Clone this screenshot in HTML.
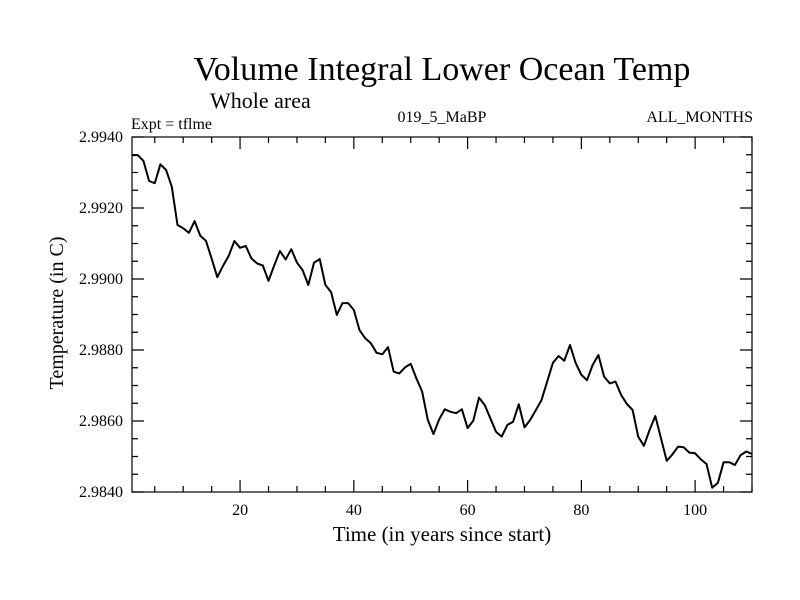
<!DOCTYPE html>
<html><head><meta charset="utf-8"><style>
body{margin:0;background:#fff}
svg{display:block;font-family:"Liberation Serif",serif}
</style></head><body>
<svg id="c" width="800" height="600" xmlns="http://www.w3.org/2000/svg">
<text x="442" y="80" font-size="34" text-anchor="middle">Volume Integral Lower Ocean Temp</text>
<text x="210" y="108" font-size="22">Whole area</text>
<text x="131" y="129" font-size="16">Expt = tflme</text>
<text x="442" y="122" font-size="16" text-anchor="middle">019_5_MaBP</text>
<text x="753" y="122" font-size="16" text-anchor="end">ALL_MONTHS</text>
<text x="442" y="541" font-size="21" text-anchor="middle">Time (in years since start)</text>
<text transform="translate(63,313) rotate(-90)" font-size="20" text-anchor="middle">Temperature (in C)</text>
<g id="axes"></g>
<rect x="132" y="137" width="620" height="355" fill="none" stroke="#000" stroke-width="1.2"/>
</svg>
<script>
const values=[2.99349,2.99349,2.99333,2.99276,2.99270,2.99323,2.99307,2.99260,2.99152,2.99143,
2.99130,2.99163,2.99122,2.99108,2.99058,2.99005,2.99037,2.99065,2.99107,2.99088,
2.99093,2.99058,2.99044,2.99038,2.98995,2.99038,2.99079,2.99055,2.99084,2.99046,
2.99025,2.98983,2.99046,2.99056,2.98983,2.98963,2.98899,2.98932,2.98932,2.98913,
2.98856,2.98833,2.98819,2.98792,2.98788,2.98808,2.98739,2.98734,2.98751,2.98761,
2.98720,2.98683,2.98603,2.98563,2.98605,2.98633,2.98626,2.98622,2.98633,2.98580,
2.98601,2.98666,2.98645,2.98608,2.98570,2.98556,2.98589,2.98598,2.98647,2.98582,
2.98603,2.98631,2.98659,2.98711,2.98764,2.98783,2.98770,2.98814,2.98763,2.98730,
2.98715,2.98758,2.98786,2.98725,2.98706,2.98711,2.98673,2.98648,2.98631,2.98556,
2.98530,2.98575,2.98614,2.98551,2.98488,2.98506,2.98528,2.98526,2.98511,2.98509,
2.98492,2.98479,2.98412,2.98426,2.98484,2.98484,2.98476,2.98504,2.98514,2.98507];
const xTicks=[20,40,60,80,100];
const yTicks=[2.984,2.986,2.988,2.990,2.992,2.994];
const yLabels=["2.9840","2.9860","2.9880","2.9900","2.9920","2.9940"];
const L=132,R=752,T=137,B=492,X0=1,X1=110,Y0=2.984,Y1=2.994;
const sx=v=>L+(v-X0)/(X1-X0)*(R-L);
const sy=v=>B-(v-Y0)/(Y1-Y0)*(B-T);
const NS="http://www.w3.org/2000/svg";
const g=document.getElementById('axes');
function mk(t,a){const e=document.createElementNS(NS,t);for(const k in a)e.setAttribute(k,a[k]);g.appendChild(e);return e;}
let d="";
for(let v=5;v<=X1;v+=5){const x=sx(v);const len=v%20===0?12:6;d+=`M${x},${B}v${-len}M${x},${T}v${len}`;}
for(let v=Y0;v<=Y1+1e-9;v+=0.0005){const y=sy(v);const len=Math.round((v-Y0)/0.0005)%4===0?12:6;d+=`M${L},${y}h${len}M${R},${y}h${-len}`;}
const tk=mk('path',{d:d,stroke:'#000','stroke-width':1.2,fill:'none'});


xTicks.forEach(v=>{const t=mk('text',{x:sx(v),y:515,'font-size':16,'text-anchor':'middle'});t.textContent=v;

});
yTicks.forEach((v,i)=>{const t=mk('text',{x:123,y:sy(v)+5,'font-size':16,'text-anchor':'end'});t.textContent=yLabels[i];

});
const pts=values.map((v,i)=>`${sx(i+1).toFixed(1)},${sy(v).toFixed(1)}`).join(' ');
const ln=mk('polyline',{points:pts,fill:'none',stroke:'#000','stroke-width':2,'stroke-linejoin':'round'});


</script>
</body></html>
